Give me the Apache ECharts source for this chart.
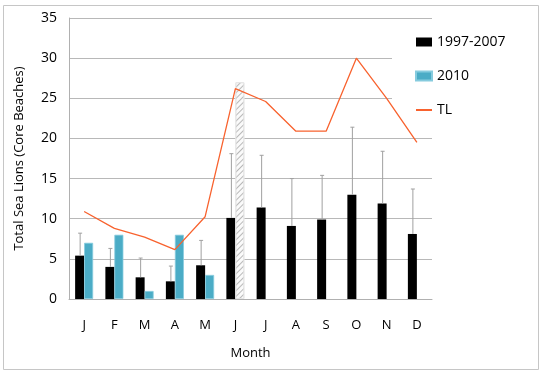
<!DOCTYPE html>
<html>
<head>
<meta charset="utf-8">
<script src="https://cdn.jsdelivr.net/npm/echarts@6/dist/echarts.min.js"></script>
<style>
  html, body { margin: 0; padding: 0; background: #fff; }
  #chart { width: 550px; height: 375px; }
</style>
</head>
<body>
<div id="chart"></div>
<script>
// data
const months = ['J', 'F', 'M', 'A', 'M', 'J', 'J', 'A', 'S', 'O', 'N', 'D']
const mean9707 = [5.4, 4.0, 2.7, 2.2, 4.2, 10.1, 11.4, 9.1, 9.9, 13.0, 11.9, 8.1]
const upper9707 = [8.2, 6.3, 5.1, 4.1, 7.3, 18.1, 17.9, 15.0, 15.4, 21.4, 18.4, 13.7]
const counts2010 = [7, 8, 1, 8, 3, 27, null, null, null, null, null, null]
const hatched2010 = [5] // month index drawn hatched
const tl = [10.9, 8.8, 7.7, 6.15, 10.25, 26.2, 24.6, 20.9, 20.9, 30, 25, 19.5]
const yTicks = [0, 5, 10, 15, 20, 25, 30, 35]

const font = '"Open Sans", Lato, sans-serif'
const barW = 9
const tlColor = '#f8622e'

const chart = echarts.init(document.getElementById('chart'))

const option = {
  animation: false,
  textStyle: { fontFamily: font },
  graphic: [{
    type: 'rect',
    shape: { x: 3.5, y: 5.5, width: 535, height: 364 },
    style: { fill: 'none', stroke: '#c6c6c6', lineWidth: 1 },
    z: 0
  }],
  grid: { left: 69, right: 118, top: 18, bottom: 76 },
  legend: {
    orient: 'vertical',
    left: 392,
    top: 20,
    padding: [15, 10, 10, 23],
    backgroundColor: '#fff',
    itemWidth: 16,
    itemHeight: 9,
    itemGap: 20,
    textStyle: { fontSize: 14, color: '#000', fontFamily: font },
    data: [
      { name: '1997-2007', icon: 'rect' },
      { name: '2010', icon: 'rect' },
      { name: 'TL', itemStyle: { opacity: 0 } }
    ]
  },
  xAxis: {
    type: 'category',
    data: months,
    name: 'Month',
    nameLocation: 'middle',
    nameGap: 48,
    nameTextStyle: { fontSize: 13, color: '#000' },
    axisLine: { lineStyle: { color: '#b0b0b0' } },
    axisTick: { length: 5, lineStyle: { color: '#b0b0b0' } },
    axisLabel: { fontSize: 13, color: '#000', margin: 20 }
  },
  yAxis: {
    type: 'value',
    min: yTicks[0],
    max: yTicks[yTicks.length - 1],
    interval: 5,
    name: 'Total Sea Lions (Core Beaches)',
    nameLocation: 'middle',
    nameGap: 43,
    nameTextStyle: { fontSize: 13, color: '#000' },
    axisLine: { show: true, lineStyle: { color: '#b0b0b0' } },
    axisTick: { show: false },
    axisLabel: { fontSize: 14, color: '#000', margin: 12 },
    splitLine: { lineStyle: { color: '#b8b8b8' } }
  },
  series: [
    {
      name: '1997-2007',
      type: 'bar',
      barWidth: barW,
      barGap: '0%',
      itemStyle: { color: '#000' },
      data: mean9707
    },
    {
      name: '2010',
      type: 'bar',
      barWidth: barW,
      itemStyle: { color: '#4bacc6', borderColor: '#86cbde', borderWidth: 0.8 },
      data: counts2010.map((v, i) => {
        if (!hatched2010.includes(i)) return v
        return {
          value: v,
          itemStyle: {
            color: '#fafafa',
            borderColor: '#e6e6e6',
            borderWidth: 1,
            decal: {
              symbol: 'rect',
              color: '#b8b8b8',
              dashArrayX: [1, 0],
              dashArrayY: [1, 3],
              rotation: -Math.PI / 4
            }
          }
        }
      })
    },
    {
      // upper error bars on the 1997-2007 means
      name: 'err',
      type: 'custom',
      z: 3,
      data: mean9707.map((m, i) => [i, m, upper9707[i]]),
      encode: { x: 0, y: [1, 2] },
      renderItem: (params, api) => {
        const lo = api.coord([api.value(0), api.value(1)])
        const hi = api.coord([api.value(0), api.value(2)])
        const x = lo[0] - barW / 2 + 0.5
        const style = { stroke: '#a0a0a0', lineWidth: 1 }
        return {
          type: 'group',
          children: [
            { type: 'line', shape: { x1: x, y1: lo[1], x2: x, y2: hi[1] }, style },
            { type: 'line', shape: { x1: x - 2, y1: hi[1], x2: x + 2, y2: hi[1] }, style }
          ]
        }
      }
    },
    {
      name: 'TL',
      type: 'line',
      symbol: 'none',
      z: 4,
      lineStyle: { color: tlColor, width: 1.3 },
      itemStyle: { color: tlColor },
      data: tl
    }
  ]
}

chart.setOption(option)
</script>
</body>
</html>
